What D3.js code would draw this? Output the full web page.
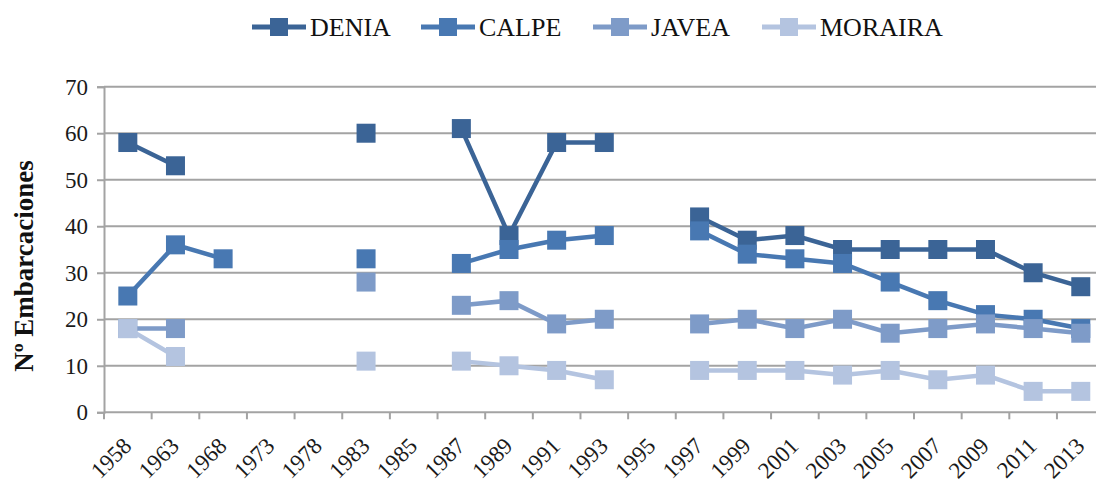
<!DOCTYPE html>
<html>
<head>
<meta charset="utf-8">
<script src="https://cdn.jsdelivr.net/npm/d3@7"></script>
<style>
  body { margin: 0; background: #fff; }
  text { font-family: "Liberation Serif", "Times New Roman", serif; }
</style>
</head>
<body>
<div id="chart"></div>
<script>
const years = ["1958", "1963", "1968", "1973", "1978", "1983", "1985", "1987", "1989", "1991", "1993",
    "1995", "1997", "1999", "2001", "2003", "2005", "2007", "2009", "2011", "2013"];

const denia   = [58, 53, null, null, null, 60, null, 61, 38, 58, 58, null, 42, 37, 38, 35, 35, 35, 35, 30, 27];
const calpe   = [25, 36, 33, null, null, 33, null, 32, 35, 37, 38, null, 39, 34, 33, 32, 28, 24, 21, 20, 18];
const javea   = [18, 18, null, null, null, 28, null, 23, 24, 19, 20, null, 19, 20, 18, 20, 17, 18, 19, 18, 17];
const moraira = [18, 12, null, null, null, 11, null, 11, 10, 9, 7, null, 9, 9, 9, 8, 9, 7, 8, 4.5, 4.5];

const seriesNames = ["DENIA", "CALPE", "JAVEA", "MORAIRA"];
const yTicks = [0, 10, 20, 30, 40, 50, 60, 70];

const width = 1096;
const height = 486;

const colors = {
    DENIA: "#3b6496",
    CALPE: "#4878b2",
    JAVEA: "#7e9bc8",
    MORAIRA: "#b4c4e0"
}

const series = [
    { name: "DENIA", values: denia },
    { name: "CALPE", values: calpe },
    { name: "JAVEA", values: javea },
    { name: "MORAIRA", values: moraira }
]

const svg = d3.select("#chart")
    .append("svg")
    .attr("width", width)
    .attr("height", height)

const x = d3.scaleBand()
    .domain(years)
    .range([104, 1104.6])

const y = d3.scaleLinear()
    .domain([0, 70])
    .range([412.3, 86.7])

// grid lines
svg.append("g")
    .selectAll("line")
    .data(yTicks.filter(d => d > 0))
    .enter()
    .append("line")
    .attr("x1", 104)
    .attr("x2", width)
    .attr("y1", d => y(d))
    .attr("y2", d => y(d))
    .attr("stroke", "#a3a3a3")
    .attr("stroke-width", 2)

// y axis
const yAxis = svg.append("g")
    .attr("transform", "translate(104,0)")
    .call(d3.axisLeft(y).tickValues(yTicks).tickSize(7).tickPadding(9))
yAxis.select(".domain").attr("stroke", "#a3a3a3").attr("stroke-width", 2)
yAxis.selectAll(".tick line").attr("stroke", "#a3a3a3").attr("stroke-width", 2)
yAxis.selectAll(".tick text")
    .attr("font-size", "23px")
    .attr("fill", "#1a1a1a")
    .style("font-family", "Liberation Serif")

// x axis with ticks at category boundaries
const xAxis = svg.append("g")
    .attr("transform", "translate(0," + y(0) + ")")
xAxis.append("line")
    .attr("x1", 104)
    .attr("x2", width)
    .attr("stroke", "#a3a3a3")
    .attr("stroke-width", 2)
xAxis.selectAll(".xtick")
    .data(years)
    .enter()
    .append("line")
    .attr("class", "xtick")
    .attr("x1", d => x(d))
    .attr("x2", d => x(d))
    .attr("y1", 0)
    .attr("y2", 7)
    .attr("stroke", "#a3a3a3")
    .attr("stroke-width", 2)
xAxis.selectAll(".xlabel")
    .data(years)
    .enter()
    .append("text")
    .attr("class", "xlabel")
    .attr("text-anchor", "end")
    .attr("font-size", "23px")
    .attr("fill", "#1a1a1a")
    .attr("transform", d => "translate(" + (x(d) + x.bandwidth() / 2 + 5) + ",35) rotate(-45)")
    .text(d => d)

// y axis title
svg.append("text")
    .attr("transform", "translate(33,266) rotate(-90)")
    .attr("text-anchor", "middle")
    .attr("font-size", "27px")
    .attr("font-weight", "bold")
    .attr("fill", "#111")
    .text("Nº Embarcaciones")

const line = d3.line()
    .defined(d => d.v != null)
    .x(d => x(d.year) + x.bandwidth() / 2)
    .y(d => y(d.v))

const markerSize = 19;

series.forEach(s => {
    const pts = s.values.map((v, i) => ({ year: years[i], v: v }))
    const g = svg.append("g")
    g.append("path")
        .attr("d", line(pts))
        .attr("fill", "none")
        .attr("stroke", colors[s.name])
        .attr("stroke-width", 4.5)
    g.selectAll("rect")
        .data(pts.filter(d => d.v != null))
        .enter()
        .append("rect")
        .attr("x", d => x(d.year) + x.bandwidth() / 2 - markerSize / 2)
        .attr("y", d => y(d.v) - markerSize / 2)
        .attr("width", markerSize)
        .attr("height", markerSize)
        .attr("fill", colors[s.name])
})

// legend
const legendX = [252, 421, 593, 762];
const legend = svg.append("g")
seriesNames.forEach((name, i) => {
    const lg = legend.append("g").attr("transform", "translate(" + legendX[i] + ",27)")
    lg.append("line")
        .attr("x1", 0)
        .attr("x2", 54)
        .attr("stroke", colors[name])
        .attr("stroke-width", 5)
    lg.append("rect")
        .attr("x", 27 - 9)
        .attr("y", -9)
        .attr("width", 18)
        .attr("height", 18)
        .attr("fill", colors[name])
    lg.append("text")
        .attr("x", 58)
        .attr("y", 9)
        .attr("font-size", "26px")
        .attr("fill", "#111")
        .text(name)
})
</script>
</body>
</html>
